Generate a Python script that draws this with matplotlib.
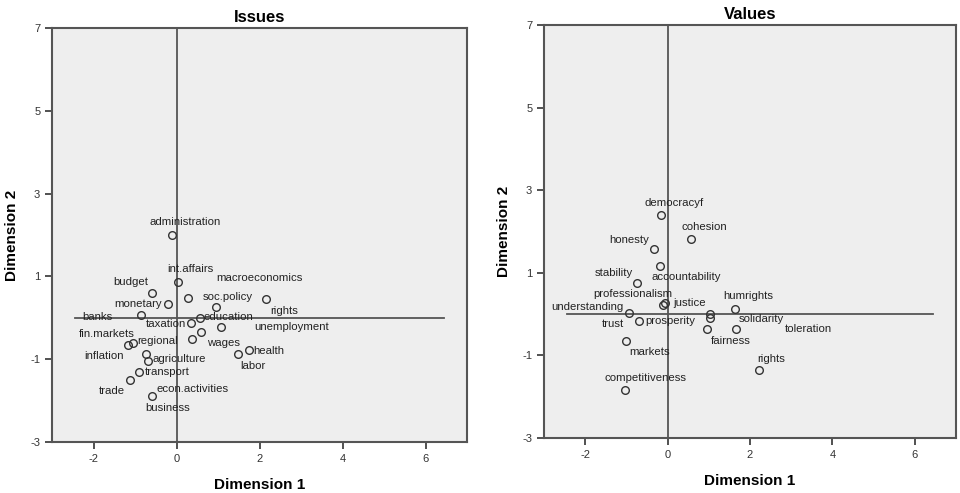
import matplotlib
matplotlib.use('Agg')
import matplotlib.pyplot as plt

plt.rcParams['font.family'] = ['Liberation Sans', 'DejaVu Sans']
plt.rcParams['axes.unicode_minus'] = False

# Issues: object points in two dimensions
issue_names = ['administration', 'int.affairs', 'macroeconomics', 'budget', 'soc.policy',
               'monetary', 'rights', 'banks', 'taxation', 'education', 'unemployment',
               'wages', 'econ.activities', 'fin.markets', 'regional', 'inflation',
               'agriculture', 'transport', 'trade', 'business', 'labor', 'health']
issue_dim1 = [-0.10, 0.04, 0.27, -0.58, 0.95, -0.21, 2.16, -0.85, 0.36, 0.56, 1.07,
              0.59, 0.38, -1.17, -1.06, -0.74, -0.69, -0.90, -1.13, -0.60, 1.47, 1.75]
issue_dim2 = [2.01, 0.86, 0.49, 0.60, 0.26, 0.33, 0.46, 0.06, -0.12, -0.01, -0.22,
              -0.34, -0.50, -0.65, -0.62, -0.87, -1.04, -1.31, -1.49, -1.89, -0.87, -0.78]

# Values: object points in two dimensions
value_names = ['democracyf', 'cohesion', 'honesty', 'accountability', 'stability',
               'justice', 'professionalism', 'understanding', 'trust', 'markets',
               'competitiveness', 'solidarity', 'prosperity', 'fairness', 'humrights',
               'toleration', 'rights']
value_dim1 = [-0.17, 0.57, -0.32, -0.18, -0.75, -0.07, -0.12, -0.93, -0.69, -1.01,
              -1.03, 1.04, 1.03, 0.96, 1.63, 1.66, 2.21]
value_dim2 = [2.41, 1.83, 1.57, 1.16, 0.76, 0.26, 0.21, 0.02, -0.17, -0.66,
              -1.83, 0.00, -0.10, -0.36, 0.12, -0.36, -1.36]

# label placement (pixels from the point, y downwards as on screen)
issue_offsets = {
    'administration': (13, -13), 'int.affairs': (12, -13), 'macroeconomics': (72, -20),
    'budget': (-22, -11), 'soc.policy': (12, -10), 'monetary': (-30, 0),
    'rights': (18, 12), 'banks': (-44, 2), 'taxation': (-26, 1), 'education': (29, -1),
    'unemployment': (71, 0), 'wages': (22, 11), 'econ.activities': (0, 50),
    'fin.markets': (-21, -11), 'regional': (25, -2), 'inflation': (-42, 2),
    'agriculture': (31, -2), 'transport': (28, 0), 'trade': (-18, 11),
    'business': (16, 12), 'labor': (15, 12), 'health': (20, 1),
}
value_offsets = {
    'democracyf': (13, -12), 'cohesion': (13, -12), 'honesty': (-25, -9),
    'accountability': (26, 11), 'stability': (-23, -10), 'justice': (25, 0),
    'professionalism': (-30, -11), 'understanding': (-42, -6), 'trust': (-26, 3),
    'markets': (24, 11), 'competitiveness': (20, -12), 'solidarity': (51, 5),
    'prosperity': (-40, 3), 'fairness': (24, 12), 'humrights': (13, -13),
    'toleration': (72, 0), 'rights': (12, -11),
}

fig = plt.figure(figsize=(9.6, 4.93), dpi=100)
ax1 = fig.add_axes([0.0542, 0.1034, 0.4323, 0.8398])
ax2 = fig.add_axes([0.5667, 0.1116, 0.4292, 0.8377])

line_col = '#555555'


def draw_panel(ax, title, names, xs, ys, offsets):
    ax.set_facecolor('#eeeeee')
    ax.axvline(0, color=line_col, lw=1.3, zorder=1)
    ax.plot([-2.45, 6.45], [0, 0], color=line_col, lw=1.3, zorder=1)
    ax.plot(xs, ys, 'o', ms=5.5, mfc='none', mec='#333333', mew=1.0, zorder=3)
    for name, x, y in zip(names, xs, ys):
        dx, dy = offsets[name]
        ax.annotate(name, (x, y), xytext=(dx, -dy), textcoords='offset pixels',
                    ha='center', va='center', fontsize=8.2, color='#222222', zorder=4)
    ax.set_xlim(-3, 7)
    ax.set_ylim(-3, 7)
    ax.set_xticks([-2, 0, 2, 4, 6])
    ax.set_yticks([-3, -1, 1, 3, 5, 7])
    ax.tick_params(labelsize=8, colors='#333333', length=5, width=1.2, direction='out')
    for sp in ax.spines.values():
        sp.set_color('#555555')
        sp.set_linewidth(1.5)
    ax.set_title(title, fontsize=12, fontweight='bold', pad=4)
    ax.set_xlabel('Dimension 1', fontsize=11, fontweight='bold', labelpad=10)
    ax.set_ylabel('Dimension 2', fontsize=11, fontweight='bold', labelpad=8)


draw_panel(ax1, 'Issues', issue_names, issue_dim1, issue_dim2, issue_offsets)
draw_panel(ax2, 'Values', value_names, value_dim1, value_dim2, value_offsets)

fig.savefig('out.png', dpi=100)
